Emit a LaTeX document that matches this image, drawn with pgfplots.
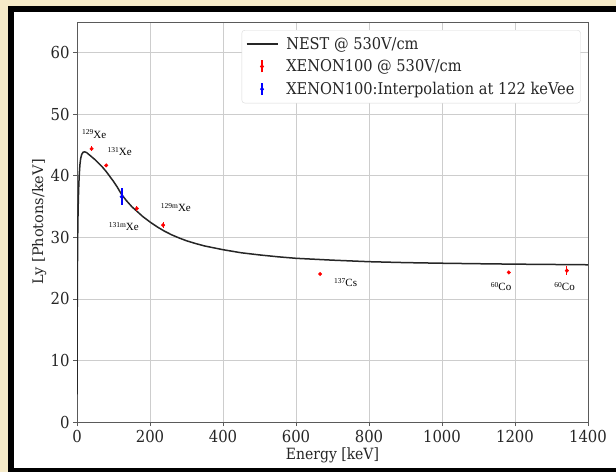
\documentclass[border=0pt]{standalone}
\usepackage{fontspec}
\setmainfont{DejaVu Serif}[FakeStretch=0.9]
\newfontfamily\ylfont{DejaVu Serif}
\newfontfamily\tnr{Liberation Serif}
\usepackage{pgfplots}
\pgfplotsset{compat=1.18}
\definecolor{beige}{RGB}{245,234,200}
\definecolor{gridgray}{RGB}{205,205,205}
\definecolor{framegray}{RGB}{90,90,90}
\definecolor{pblue}{RGB}{0,0,255}
\definecolor{pred}{RGB}{255,0,0}

\newcommand{\iso}[2]{{\tnr\fontsize{7.5}{8}\selectfont\raisebox{3.2pt}{#1}\fontsize{11}{12}\selectfont #2}}

\begin{document}
\begin{tikzpicture}[x=1pt,y=1pt]
% page background and frame
\fill[beige] (0,0) rectangle (616,472);
\fill[black] (8.3,0) rectangle (616,466);
\fill[white] (14,4) rectangle (616,460.3);

\begin{axis}[
  at={(77pt,50pt)}, anchor=south west,
  scale only axis, width=511pt, height=400pt,
  xmin=0, xmax=1400, ymin=0, ymax=65,
  xtick={0,200,...,1400}, ytick={0,10,...,60},
  grid=major, grid style={gridgray, line width=0.8pt},
  axis line style={framegray, line width=0.9pt},
  tick align=outside, tick pos=left,
  major tick length=4pt, tick style={framegray, line width=0.8pt},
  /pgf/number format/assume math mode=true,
  /pgf/number format/1000 sep={},
  tick label style={font=\fontsize{16.5}{18}\selectfont, text=black!85},
  xticklabel style={yshift=-1pt},
  label style={text=black!85},
  xlabel={Energy [keV]},
  ylabel={Ly [Photons/keV]},
  xlabel style={font=\fontsize{15.5}{18}\selectfont, at={(axis description cs:0.5,-0.0825)}, anchor=center},
  ylabel style={font=\ylfont\fontsize{14.5}{17}\selectfont, at={(axis description cs:-0.074,0.5)}, anchor=center},
  legend cell align=left,
  legend style={at={(0.9857,0.98)}, anchor=north east,
    draw=black!15, rounded corners=3pt, fill=white,
    font=\fontsize{16.2}{18}\selectfont, text=black!85,
    row sep=5pt, inner xsep=4pt, inner ysep=5pt},
]
\addplot[color=black!85, line width=1.5pt,
  legend image code/.code={\draw[black!85, line width=1.5pt] (0pt,0pt) -- (31pt,0pt); \path (37pt,0pt);}]
  coordinates {
  (0,4.5) (0.3,12) (0.7,19) (1.2,25) (2,30.5) (3,34.5) (4.5,37.8) (6,40)
  (8,41.8) (10,42.8) (13,43.5) (17,43.85) (21,43.9) (26,43.8) (32,43.5)
  (40,43.1) (50,42.6) (60,42.0) (70,41.4) (80,40.7) (90,39.9) (100,39.1)
  (110,38.2) (122,37.0) (135,36.0) (150,35.0) (165,34.2) (180,33.4)
  (200,32.5) (220,31.7) (240,31.0) (260,30.4) (280,29.9) (300,29.45)
  (325,29.0) (350,28.6) (375,28.3) (400,28.0) (450,27.5) (500,27.15)
  (550,26.85) (600,26.6) (700,26.3) (800,26.05) (900,25.9) (1000,25.8)
  (1100,25.72) (1200,25.65) (1300,25.6) (1400,25.55)
  };
\addlegendentry{NEST @ 530V/cm}

\addplot[pred, only marks, mark=*, mark size=1.8pt,
  legend image code/.code={\draw[pred, line width=1.2pt] (15.5pt,-6pt) -- (15.5pt,6pt); \fill[pred] (15.5pt,0pt) circle (1.8pt); \path (0pt,0pt) (37pt,0pt);},
  error bars/.cd, y dir=both, y explicit, error mark=none,
  error bar style={pred, line width=1pt}]
  coordinates {
  (40,44.4) +- (0,0.4)
  (80,41.7) +- (0,0.3)
  (164,34.7) +- (0,0.4)
  (236,32.0) +- (0,0.5)
  (666,24.05) +- (0,0.2)
  (1183,24.3) +- (0,0.3)
  (1342,24.6) +- (0,0.75)
  };
\addlegendentry{XENON100 @ 530V/cm}

\addplot[pblue, only marks, mark=*, mark size=1.8pt,
  legend image code/.code={\draw[pblue, line width=1.4pt] (15.5pt,-6pt) -- (15.5pt,6pt); \fill[pblue] (15.5pt,0pt) circle (1.8pt); \path (0pt,0pt) (37pt,0pt);},
  error bars/.cd, y dir=both, y explicit, error mark=none,
  error bar style={pblue, line width=2pt}]
  coordinates {(122.5,36.6) +- (0,1.4)};
\addlegendentry{XENON100:Interpolation at 122 keVee}

% isotope labels
\node at (axis cs:47,46.8) {\iso{129}{Xe}};
\node at (axis cs:117,44.0) {\iso{131}{Xe}};
\node at (axis cs:128,31.7) {\iso{131m}{Xe}};
\node at (axis cs:271,34.8) {\iso{129m}{Xe}};
\node at (axis cs:736,22.6) {\iso{137}{Cs}};
\node at (axis cs:1162,22.0) {\iso{60}{Co}};
\node at (axis cs:1336,22.0) {\iso{60}{Co}};
\end{axis}
\end{tikzpicture}
\end{document}
